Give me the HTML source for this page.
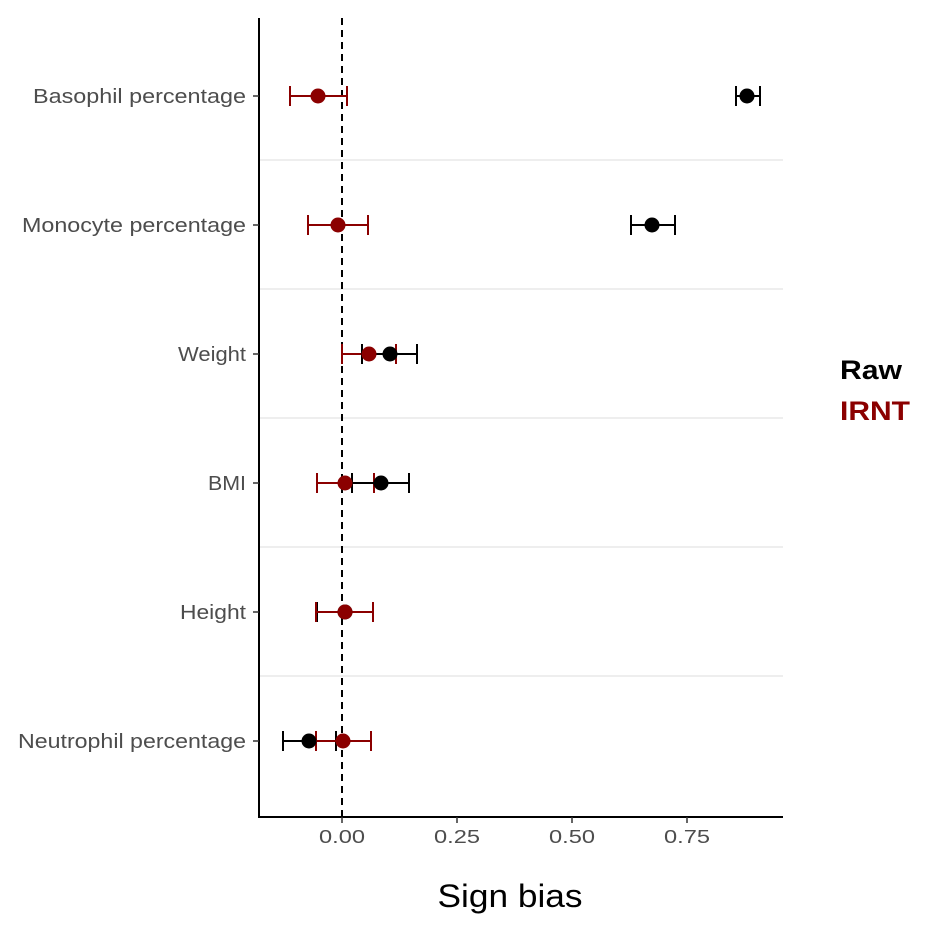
<!DOCTYPE html>
<html><head><style>body{margin:0;background:#fff}</style></head><body>
<svg width="928" height="922" xmlns="http://www.w3.org/2000/svg" font-family="Liberation Sans, Arial, sans-serif">
<rect width="928" height="922" fill="#fff"/>
<g stroke="#e3e3e3" stroke-width="1.2">
<line x1="259" x2="783" y1="160" y2="160"/><line x1="259" x2="783" y1="289" y2="289"/>
<line x1="259" x2="783" y1="418" y2="418"/><line x1="259" x2="783" y1="547" y2="547"/>
<line x1="259" x2="783" y1="676" y2="676"/>
</g>
<line x1="342" x2="342" y1="18" y2="817" stroke="#000" stroke-width="2" stroke-dasharray="7,5"/>
<g stroke-width="2" fill="none">
<path stroke="#8b0000" d="M290 96H347M290 86V106M347 86V106"/>
<path stroke="#8b0000" d="M308 225H368M308 215V235M368 215V235"/>
<path stroke="#8b0000" d="M342 354H396M342 344V364M396 344V364"/>
<path stroke="#8b0000" d="M317 483H374M317 473V493M374 473V493"/>
<path stroke="#000" d="M736 96H760M736 86V106M760 86V106"/>
<path stroke="#000" d="M631 225H675M631 215V235M675 215V235"/>
<path stroke="#000" d="M362 354H417M362 344V364M417 344V364"/>
<path stroke="#000" d="M352 483H409M352 473V493M409 473V493"/>
<path stroke="#000" d="M317 612H373M317 602V622M373 602V622"/>
<path stroke="#000" d="M283 741H336M283 731V751M336 731V751"/>
<path stroke="#8b0000" d="M316 612H373M316 602V622M373 602V622"/>
<path stroke="#8b0000" d="M316 741H371M316 731V751M371 731V751"/>
</g>
<g fill="#000">
<circle cx="747" cy="96" r="7.5"/><circle cx="652" cy="225" r="7.5"/>
<circle cx="390" cy="354" r="7.5"/><circle cx="381" cy="483" r="7.5"/>
<circle cx="345" cy="612" r="7.5"/><circle cx="309" cy="741" r="7.5"/>
</g>
<g fill="#8b0000">
<circle cx="318" cy="96" r="7.5"/><circle cx="338" cy="225" r="7.5"/>
<circle cx="369" cy="354" r="7.5"/><circle cx="345" cy="483" r="7.5"/>
<circle cx="345" cy="612" r="7.5"/><circle cx="343" cy="741" r="7.5"/>
</g>
<g stroke="#000" stroke-width="2">
<line x1="259" x2="259" y1="18" y2="818"/><line x1="258" x2="783" y1="817" y2="817"/>
</g>
<g stroke="#333" stroke-width="1.5">
<line x1="253" x2="259" y1="96" y2="96"/><line x1="253" x2="259" y1="225" y2="225"/>
<line x1="253" x2="259" y1="354" y2="354"/><line x1="253" x2="259" y1="483" y2="483"/>
<line x1="253" x2="259" y1="612" y2="612"/><line x1="253" x2="259" y1="741" y2="741"/>
<line x1="342" x2="342" y1="817" y2="823"/><line x1="457" x2="457" y1="817" y2="823"/>
<line x1="572" x2="572" y1="817" y2="823"/><line x1="687" x2="687" y1="817" y2="823"/>
</g>
<g fill="#4d4d4d" font-size="20" text-anchor="end" lengthAdjust="spacingAndGlyphs">
<text x="246" y="103" textLength="213" lengthAdjust="spacingAndGlyphs">Basophil percentage</text>
<text x="246" y="232" textLength="224" lengthAdjust="spacingAndGlyphs">Monocyte percentage</text>
<text x="246" y="361" textLength="68" lengthAdjust="spacingAndGlyphs">Weight</text>
<text x="246" y="490" textLength="38" lengthAdjust="spacingAndGlyphs">BMI</text>
<text x="246" y="619" textLength="66" lengthAdjust="spacingAndGlyphs">Height</text>
<text x="246" y="748" textLength="228" lengthAdjust="spacingAndGlyphs">Neutrophil percentage</text>
</g>
<g fill="#4d4d4d" font-size="18" text-anchor="middle">
<text x="342" y="843" textLength="46" lengthAdjust="spacingAndGlyphs">0.00</text><text x="457" y="843" textLength="46" lengthAdjust="spacingAndGlyphs">0.25</text>
<text x="572" y="843" textLength="46" lengthAdjust="spacingAndGlyphs">0.50</text><text x="687" y="843" textLength="46" lengthAdjust="spacingAndGlyphs">0.75</text>
</g>
<text x="510" y="907" font-size="32" text-anchor="middle" fill="#000" textLength="145" lengthAdjust="spacingAndGlyphs">Sign bias</text>
<text x="840" y="379" font-size="27" font-weight="bold" fill="#000" textLength="62" lengthAdjust="spacingAndGlyphs">Raw</text>
<text x="840" y="420" font-size="27" font-weight="bold" fill="#8b0000" textLength="70" lengthAdjust="spacingAndGlyphs">IRNT</text>
</svg>
</body></html>
